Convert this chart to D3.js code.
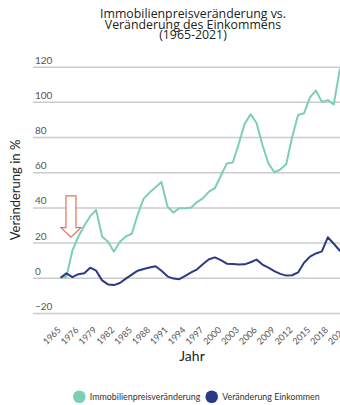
<!DOCTYPE html>
<html><head><meta charset="utf-8">
<script src="https://cdn.jsdelivr.net/npm/d3@7"></script>
<style>html,body{margin:0;padding:0;background:#fff;overflow:hidden}</style>
</head><body><div id="chart"></div>
<script>
const categories = ["1965","1970","1973","1976","1977","1978","1979","1980","1981","1982","1983","1984","1985","1986","1987","1988","1989","1990","1991","1992","1993","1994","1995","1996","1997","1998","1999","2000","2001","2002","2003","2004","2005","2006","2007","2008","2009","2010","2011","2012","2013","2014","2015","2016","2017","2018","2019","2020","2021"];
const tickLabels = ["1965","1976","1979","1982","1985","1988","1991","1994","1997","2000","2003","2006","2009","2012","2015","2018","2021"];
const yTicks = [-20,0,20,40,60,80,100,120];
const housePrice = [0,0.5,15.5,23.3,29.5,35,38.5,23.5,20.5,14.8,20.5,23.5,25,36,45,48.5,51.5,54.5,40.5,37,39.5,39.5,40,43,45.3,49,51,58,65,65.5,76,87.5,93,88,75.5,65,60,61.5,64.5,80,92.5,93.5,102.5,106.5,100,101,98.5,118,125];
const income = [0,2.5,0.3,2,2.5,5.7,4,-1.5,-3.8,-4.2,-3,-0.5,1.8,4,5,5.8,6.5,4,0.8,-0.5,-0.8,1,3,4.8,7.8,10.5,11.6,10,8,7.8,7.5,7.6,8.8,10.3,7.5,5.8,3.8,2.2,1.2,1.4,3,8.5,12,13.8,15,23,19.3,15.5,13];
const seriesNames = ["Immobilienpreisveränderung","Veränderung Einkommen"];
const titleLines = ["Immobilienpreisveränderung vs.","Veränderung des Einkommens","(1965-2021)"];

const W = 340, H = 405;
const tealColor = "#7ccfb6", navyColor = "#2c3a86";
const svg = d3.select("#chart").append("svg")
  .attr("width", W).attr("height", H)
  .style("font-family", "Lato, 'Open Sans', sans-serif")
  .style("background", "#fff");

const x = d3.scalePoint().domain(categories).range([60.5, 60.5 + 48 * 5.94]);
const y = d3.scaleLinear().domain([-20, 120]).range([312.9, 66.7]);

// title (font size fitted so first line is ~186px wide)
const title = svg.append("g").selectAll("text").data(titleLines).join("text")
  .attr("x", 193).attr("y", (d, i) => 17.8 + i * 10.8)
  .attr("text-anchor", "middle")
  .attr("font-size", 12).attr("fill", "#222")
  .style("font-family", "'Open Sans', sans-serif")
  .text(d => d);
const firstLen = title.nodes()[0].getComputedTextLength();
if (firstLen > 0) title.attr("font-size", Math.min(13, 12 * 186 / firstLen));

// y grid + labels
const yAxis = svg.append("g").attr("transform", "translate(33,0)")
  .call(d3.axisRight(y).tickValues(yTicks).tickSize(W - 33).tickFormat(d3.format("d")));
yAxis.select(".domain").remove();
yAxis.selectAll(".tick line").attr("stroke", "#cbcbcb").attr("stroke-width", 1.5);
yAxis.selectAll(".tick text").attr("x", 2).attr("dy", -3.5).attr("text-anchor", "start")
  .attr("font-size", 10).attr("fill", "#555").style("font-family", "Lato, sans-serif");

// y title
svg.append("text").attr("transform", "translate(20,190) rotate(-90)")
  .attr("text-anchor", "middle").attr("font-size", 13).attr("fill", "#222")
  .text("Veränderung in %");

// x axis
const xAxis = svg.append("g").attr("transform", "translate(0.5,330.5)")
  .call(d3.axisBottom(x).tickValues(tickLabels).tickSize(0));
xAxis.select(".domain").remove();
xAxis.selectAll(".tick text").attr("x", 0).attr("y", 0).attr("dy", 0)
  .attr("transform", "rotate(-45)").attr("text-anchor", "end")
  .attr("font-size", 9).attr("fill", "#555").style("font-family", "Lato, sans-serif");

svg.append("text").attr("x", 192).attr("y", 361)
  .attr("text-anchor", "middle").attr("font-size", 14).attr("fill", "#222").text("Jahr");

// arrow annotation
const ax = x(categories[1]) + 4.5;
const arrowPts = [
  [ax - 5, y(46.5)], [ax + 5, y(46.5)], [ax + 5, y(28.5)], [ax + 10, y(28.5)],
  [ax, y(23)], [ax - 10, y(28.5)], [ax - 5, y(28.5)]
];
svg.append("polygon").attr("points", arrowPts.map(p => p.join(",")).join(" "))
  .attr("fill", "#fff").attr("stroke", "#e4705f").attr("stroke-width", 1.2);

// lines
const line = d3.line().x((d, i) => x(categories[i])).y(d => y(d));
svg.append("path").datum(housePrice).attr("d", line)
  .attr("fill", "none").attr("stroke", tealColor).attr("stroke-width", 2).attr("stroke-linejoin", "round");
svg.append("path").datum(income).attr("d", line)
  .attr("fill", "none").attr("stroke", navyColor).attr("stroke-width", 2).attr("stroke-linejoin", "round");

// legend
const legend = svg.append("g");
const legendItems = [
  {name: seriesNames[0], color: tealColor, cx: 79.3, w: 110.5},
  {name: seriesNames[1], color: navyColor, cx: 211.7, w: 97.5}
];
legendItems.forEach(it => {
  legend.append("circle").attr("cx", it.cx).attr("cy", 396.7).attr("r", 6.3).attr("fill", it.color);
  const t = legend.append("text").attr("x", it.cx + 10.5).attr("y", 399.8)
    .attr("font-size", 8.8).attr("fill", "#333").text(it.name);
  const len = t.node().getComputedTextLength();
  if (len > 0) t.attr("font-size", Math.min(10, 8.8 * it.w / len));
});
</script>
</body></html>
